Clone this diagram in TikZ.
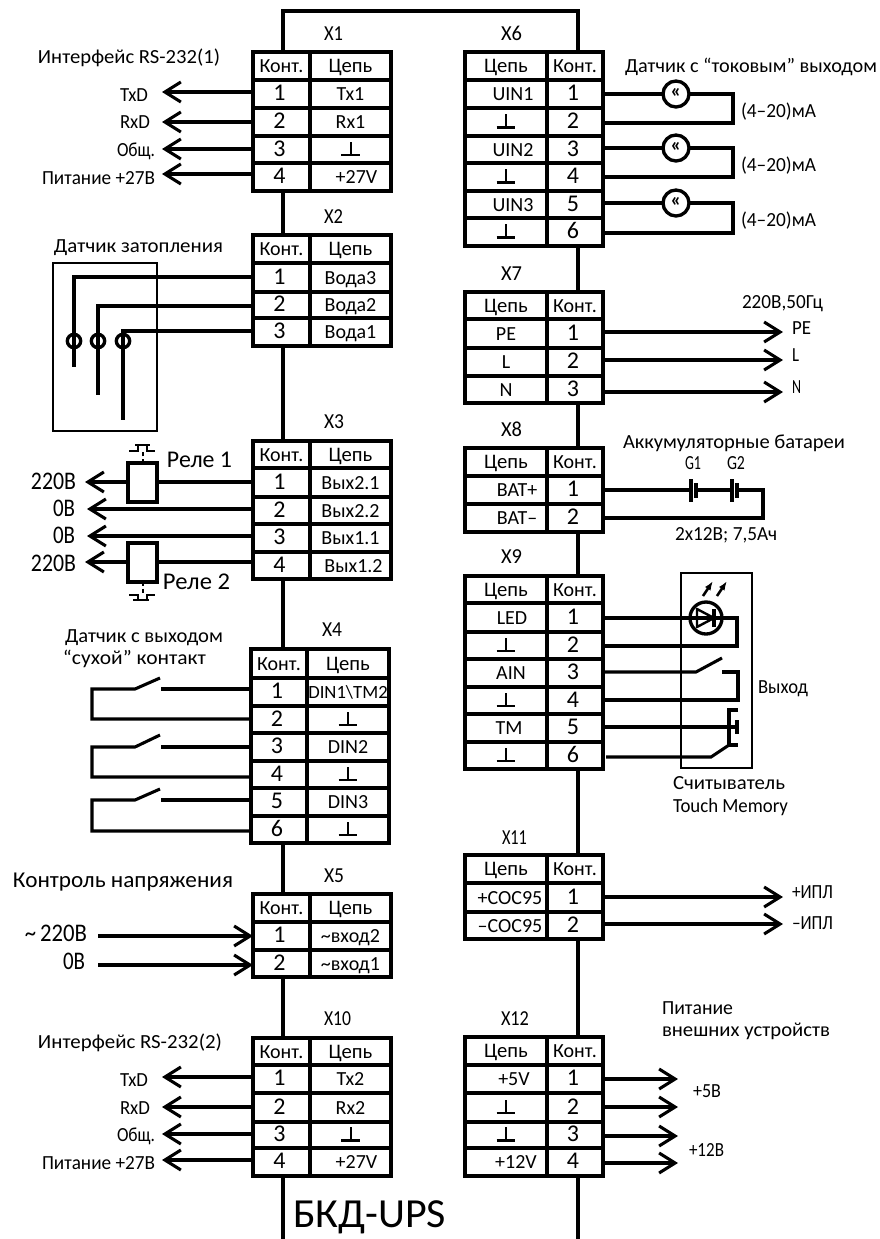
\documentclass[tikz,border=0pt]{standalone}
\usepackage{fontspec}
\usepackage{graphicx}
\setmainfont{Carlito}
\usetikzlibrary{arrows.meta}
\newcommand\setcols[3]{\def\xa{#1}\def\xb{#2}\def\xc{#3}}
\newcommand\crow[5]{%
  \pgfmathsetmacro\wL{(\xb-\xa)*.75}\pgfmathsetmacro\wR{(\xc-\xb)*.75}%
  \pgfmathsetmacro\hh{(#3-#2)*.75}%
  \pgfmathsetmacro\cL{(\xa+\xb)/2}\pgfmathsetmacro\cR{(\xb+\xc)/2}\pgfmathsetmacro\cy{(#2+#3)/2}%
  \node[cell,minimum width=\wL pt,minimum height=\hh pt] (#1-L) at (\cL,\cy) {\makebox[0pt]{#4}};
  \node[cell,minimum width=\wR pt,minimum height=\hh pt] (#1-R) at (\cR,\cy) {\makebox[0pt]{#5}};
}
\newcommand\txt[6]{%
  \pgfmathsetmacro\wT{(#3-#2)*.75}\pgfmathsetmacro\cT{(#2+#3)/2}\pgfmathsetmacro\hT{.64*#5}%
  \node[lab,font=\fontsize{#5}{#5}\selectfont,text height=\hT pt] (#1) at (\cT,#4) {\resizebox{\wT pt}{\height}{#6}};
}
\newcommand\sh[1]{\kern#1\dimexpr1.5pt\relax}
\newcommand\pn[1]{{\fontsize{18}{18}\selectfont\sh{-2}#1}}
\newcommand\kt{Конт.}
\newcommand\ce{{\fontsize{15.5}{15.5}\selectfont Цепь}}
\newcommand\gnd{\hbox to 14pt{\hss\vbox{\hbox to 14pt{\hss\vrule width 1.5pt height 9pt\hss}\hrule height 1.7pt}\hss}}
\tikzset{
  cell/.style={draw,line width=2.4pt,rectangle,inner sep=0pt,outer sep=0pt,font=\fontsize{15}{15}\selectfont,text height=10pt,text depth=0pt,align=center},
  lab/.style={inner sep=0pt,outer sep=0pt,text depth=0pt},
  wire/.style={line width=2.3pt},
  arr/.style={line width=2.3pt,-{Straight Barb[length=12pt,width=15pt]}},
  ring/.style={draw,circle,line width=2.5pt,inner sep=0pt,outer sep=0pt},
  relaybox/.style={draw,rectangle,line width=2.4pt,inner sep=0pt,outer sep=0pt},
  framebox/.style={draw,rectangle,line width=1.7pt,inner sep=0pt,outer sep=0pt},
}
\begin{document}
\begin{tikzpicture}[x=0.75pt,y=-0.75pt]
\useasboundingbox (0,0) rectangle (880,1239);
% spine anchors
\coordinate (spL) at (283,11);
\coordinate (spR) at (578,11);
\coordinate (spLb) at (283,1239);
\coordinate (spRb) at (578,1239);

% ---- left tables
\setcols{253}{310}{391}
\crow{A0}{52}{80}{\kt}{\ce}
\crow{A1}{80}{108}{\pn{1}}{Tx1}
\crow{A2}{108}{136}{\pn{2}}{Rx1}
\crow{A3}{136}{163}{\pn{3}}{\gnd}
\crow{A4}{163}{191}{\pn{4}}{\sh{6}+27V}

\crow{B0}{235}{263}{\kt}{\ce}
\crow{B1}{263}{292}{\pn{1}}{Вода3}
\crow{B2}{292}{318}{\pn{2}}{Вода2}
\crow{B3}{318}{346}{\pn{3}}{Вода1}

\crow{C0}{441}{468}{\kt}{\ce}
\crow{C1}{468}{497}{\pn{1}}{Вых2.1}
\crow{C2}{497}{524}{\pn{2}}{Вых2.2}
\crow{C3}{524}{552}{\pn{3}}{Вых1.1}
\crow{C4}{552}{579}{\pn{4}}{\sh{3}Вых1.2}

\setcols{251}{307}{389}
\crow{D0}{649}{678}{\kt}{\ce}
\crow{D1}{678}{706}{\pn{1}}{\fontsize{14}{14}\selectfont DIN1\textbackslash TM2}
\crow{D2}{706}{733}{\pn{2}}{\gnd}
\crow{D3}{733}{761}{\pn{3}}{DIN2}
\crow{D4}{761}{788}{\pn{4}}{\gnd}
\crow{D5}{788}{816}{\pn{5}}{DIN3}
\crow{D6}{816}{843}{\pn{6}}{\gnd}

\setcols{253}{310}{391}
\crow{E0}{894}{922}{\kt}{\ce}
\crow{E1}{922}{950}{\pn{1}}{\textasciitilde вход2}
\crow{E2}{950}{977}{\pn{2}}{\textasciitilde вход1}

\crow{F0}{1038}{1065}{\kt}{\ce}
\crow{F1}{1065}{1093}{\pn{1}}{Tx2}
\crow{F2}{1093}{1122}{\pn{2}}{Rx2}
\crow{F3}{1122}{1148}{\pn{3}}{\gnd}
\crow{F4}{1148}{1176}{\pn{4}}{\sh{6}+27V}

% ---- right tables
\setcols{465}{547}{603}
\crow{G0}{52}{80}{\ce}{\kt}
\crow{G1}{80}{108}{\sh{7}UIN1}{\pn{1}}
\crow{G2}{108}{136}{\gnd}{\pn{2}}
\crow{G3}{136}{163}{\sh{7}UIN2}{\pn{3}}
\crow{G4}{163}{191}{\gnd}{\pn{4}}
\crow{G5}{191}{218}{\sh{7}UIN3}{\pn{5}}
\crow{G6}{218}{246}{\gnd}{\pn{6}}

\crow{H0}{292}{319}{\ce}{\kt}
\crow{H1}{319}{348}{PE}{\pn{1}}
\crow{H2}{348}{376}{L}{\pn{2}}
\crow{H3}{376}{403}{N}{\pn{3}}

\crow{I0}{448}{476}{\ce}{\kt}
\crow{I1}{476}{504}{\sh{11}BAT+}{\pn{1}}
\crow{I2}{504}{532}{\sh{11}BAT--}{\pn{2}}

\crow{J0}{576}{603}{\ce}{\kt}
\crow{J1}{603}{632}{\sh{6}LED}{\pn{1}}
\crow{J2}{632}{659}{\gnd}{\pn{2}}
\crow{J3}{659}{687}{\sh{5}AIN}{\pn{3}}
\crow{J4}{687}{714}{\gnd}{\pn{4}}
\crow{J5}{714}{742}{\sh{3}TM}{\pn{5}}
\crow{J6}{742}{769}{\gnd}{\pn{6}}

\crow{K0}{855}{883}{\ce}{\kt}
\crow{K1}{883}{912}{\sh{4}+COC95}{\pn{1}}
\crow{K2}{912}{939}{\sh{4}--COC95}{\pn{2}}

\crow{M0}{1037}{1065}{\ce}{\kt}
\crow{M1}{1065}{1093}{\sh{8}+5V}{\pn{1}}
\crow{M2}{1093}{1122}{\gnd}{\pn{2}}
\crow{M3}{1122}{1148}{\gnd}{\pn{3}}
\crow{M4}{1148}{1176}{\sh{10}+12V}{\pn{4}}

% ---- spine
\draw[wire] (spL |- A0-L.north) -- (spL) -- (spR) -- (spR |- G0-R.north);
\draw[wire] (spL |- A4-L.south) -- (spL |- B0-L.north);
\draw[wire] (spL |- B3-L.south) -- (spL |- C0-L.north);
\draw[wire] (spL |- C4-L.south) -- (spL |- D0-L.north);
\draw[wire] (spL |- D6-L.south) -- (spL |- E0-L.north);
\draw[wire] (spL |- E2-L.south) -- (spL |- F0-L.north);
\draw[wire] (spL |- F4-L.south) -- (spLb);
\draw[wire] (spR |- G6-R.south) -- (spR |- H0-R.north);
\draw[wire] (spR |- H3-R.south) -- (spR |- I0-R.north);
\draw[wire] (spR |- I2-R.south) -- (spR |- J0-R.north);
\draw[wire] (spR |- J6-R.south) -- (spR |- K0-R.north);
\draw[wire] (spR |- K2-R.south) -- (spR |- M0-R.north);
\draw[wire] (spR |- M4-R.south) -- (spRb);

% ---- connector titles
\txt{tX1}{324}{343}{34}{16}{X1}
\txt{tX2}{324}{343}{217}{16}{X2}
\txt{tX3}{324}{344}{422}{16}{X3}
\txt{tX4}{322}{342}{630}{16}{X4}
\txt{tX5}{324}{344}{876}{16}{X5}
\txt{tX10}{324}{351}{1019}{16}{X10}
\txt{tX6}{501}{522}{34}{16}{X6}
\txt{tX7}{501}{522}{274}{16}{X7}
\txt{tX8}{501}{522}{430}{16}{X8}
\txt{tX9}{501}{522}{557}{16}{X9}
\txt{tX11}{502}{527}{838}{16}{X11}
\txt{tX12}{501}{529}{1019}{16}{X12}

% ---- X1 side
\txt{l1}{38}{220}{57}{15}{Интерфейс RS-232(1)}
\txt{l2}{120}{148}{95}{15}{TxD}
\txt{l3}{120}{150}{122}{15}{RxD}
\txt{l4}{117}{155}{150}{15}{Общ.}
\txt{l5}{42}{155}{178}{15}{Питание +27В}
\coordinate (a1) at (162,92);
\coordinate (a2) at (162,122);
\coordinate (a3) at (162,149);
\coordinate (a4) at (162,174);
\draw[arr] (A1-L.west |- a1) -- (a1);
\draw[arr] (A2-L.west |- a2) -- (a2);
\draw[arr] (A3-L.west |- a3) -- (a3);
\draw[arr] (A4-L.west |- a4) -- (a4);

% ---- X2 side
\txt{l6}{54}{223}{246}{15}{Датчик затопления}
\node[framebox,minimum width=78pt,minimum height=126pt] (flood) at (105,347) {};
\node[ring,minimum size=10pt] (fc1) at (74,341) {};
\node[ring,minimum size=10pt] (fc2) at (98,341) {};
\node[ring,minimum size=10pt] (fc3) at (123,341) {};
\coordinate (f1) at (74,277); \coordinate (f1e) at (74,367);
\coordinate (f2) at (98,306); \coordinate (f2e) at (98,395);
\coordinate (f3) at (123,331); \coordinate (f3e) at (123,420);
\draw[wire] (B1-L.west |- f1) -- (f1) -- (f1e);
\draw[wire] (B2-L.west |- f2) -- (f2) -- (f2e);
\draw[wire] (B3-L.west |- f3) -- (f3) -- (f3e);

% ---- X3 side
\txt{l7}{167}{232}{460}{18}{Реле 1}
\txt{l8}{163}{230}{582}{18}{Реле 2}
\txt{l9}{31}{76}{481}{19}{220В}
\txt{l10}{53}{75}{508}{19}{0В}
\txt{l11}{53}{75}{535}{19}{0В}
\txt{l12}{31}{76}{563}{19}{220В}
\node[relaybox,minimum width=21.75pt,minimum height=29.25pt] (rel1) at (142.5,482.5) {};
\node[relaybox,minimum width=21.75pt,minimum height=29.25pt] (rel2) at (142.5,562.5) {};
\coordinate (c1) at (85,482);
\coordinate (c2) at (87,509);
\coordinate (c3) at (87,536);
\coordinate (c4) at (85,562);
\draw[wire] (C1-L.west |- c1) -- (rel1.east |- c1);
\draw[arr] (rel1.west |- c1) -- (c1);
\draw[arr] (C2-L.west |- c2) -- (c2);
\draw[arr] (C3-L.west |- c3) -- (c3);
\draw[wire] (C4-L.west |- c4) -- (rel2.east |- c4);
\draw[arr] (rel2.west |- c4) -- (c4);
% relay contacts
\draw[line width=1.6pt,densely dashed] (143,463) -- (143,451);
\draw[line width=2pt] (129,451) -- (138,451) -- (138,445) (147,445) -- (147,451) -- (155,451) (135,445) -- (150,445);
\draw[line width=1.6pt,densely dashed] (143,582) -- (143,595);
\draw[line width=2pt] (129,595) -- (138,595) -- (138,601) (147,601) -- (147,595) -- (155,595) (133,600) -- (149,600);

% ---- X4 side
\txt{l13}{65}{223}{636}{15}{Датчик с выходом}
\txt{l14}{63}{206}{658}{15}{“сухой” контакт}
\coordinate (d1a) at (161,689); \coordinate (d1b) at (92,689); \coordinate (d1c) at (135,689); \coordinate (d1d) at (160,678); \coordinate (d1e) at (92,719);
\coordinate (d2a) at (161,747); \coordinate (d2b) at (92,747); \coordinate (d2c) at (135,747); \coordinate (d2d) at (160,735); \coordinate (d2e) at (92,777);
\coordinate (d3a) at (161,800); \coordinate (d3b) at (92,800); \coordinate (d3c) at (135,800); \coordinate (d3d) at (160,789); \coordinate (d3e) at (92,831);
\draw[wire] (D1-L.west |- d1a) -- (d1a);
\draw[wire] (d1d) -- (d1c) -- (d1b) -- (d1e) -- (D2-L.west |- d1e);
\draw[wire] (D3-L.west |- d2a) -- (d2a);
\draw[wire] (d2d) -- (d2c) -- (d2b) -- (d2e) -- (D4-L.west |- d2e);
\draw[wire] (D5-L.west |- d3a) -- (d3a);
\draw[wire] (d3d) -- (d3c) -- (d3b) -- (d3e) -- (D6-L.west |- d3e);

% ---- X5 side
\txt{l15}{13}{233}{880}{17}{Контроль напряжения}
\txt{l16}{25}{87}{933}{19}{\textasciitilde\,220В}
\txt{l17}{63}{85}{961}{19}{0В}
\coordinate (e1) at (98,936);
\coordinate (e2) at (98,965);
\draw[arr] (e1) -- (E1-L.west |- e1);
\draw[arr] (e2) -- (E2-L.west |- e2);

% ---- X10 side
\txt{l18}{38}{222}{1042}{15}{Интерфейс RS-232(2)}
\txt{l19}{120}{148}{1080}{15}{TxD}
\txt{l20}{120}{150}{1108}{15}{RxD}
\txt{l21}{117}{155}{1135}{15}{Общ.}
\txt{l22}{42}{155}{1163}{15}{Питание +27В}
\coordinate (b1) at (162,1077);
\coordinate (b2) at (162,1107);
\coordinate (b3) at (162,1134);
\coordinate (b4) at (162,1160);
\draw[arr] (F1-L.west |- b1) -- (b1);
\draw[arr] (F2-L.west |- b2) -- (b2);
\draw[arr] (F3-L.west |- b3) -- (b3);
\draw[arr] (F4-L.west |- b4) -- (b4);
\txt{l23}{293}{446}{1214}{31}{БКД-UPS}

% ---- X6 side
\txt{l24}{625}{877}{66}{15}{Датчик с “токовым” выходом}
\foreach \n/\ya/\yb/\ra/\rb/\ly in {1/94/123/G1/G2/111,2/148/177/G3/G4/165,3/203/233/G5/G6/220}{
  \node[ring,minimum size=19.5pt,font=\bfseries\fontsize{15}{15}\selectfont] (cur\n) at (676,\ya) {\raisebox{1pt}{«}};
  \coordinate (cur\n a) at (733,\ya);
  \coordinate (cur\n b) at (733,\yb);
  \draw[wire] (\ra-R.east |- cur\n a) -- (cur\n);
  \draw[wire] (cur\n) -- (cur\n a) -- (cur\n b) -- (\rb-R.east |- cur\n b);
  \txt{ma\n}{741}{816}{\ly}{15}{(4--20)мА}
}

% ---- X7 side
\txt{l25}{742}{823}{302}{15}{220В,50Гц}
\coordinate (h1) at (783,332);
\coordinate (h2) at (783,360);
\coordinate (h3) at (783,392);
\draw[arr] (H1-R.east |- h1) -- (h1);
\draw[arr] (H2-R.east |- h2) -- (h2);
\draw[arr] (H3-R.east |- h3) -- (h3);
\txt{l26}{792}{811}{328}{15}{PE}
\txt{l27}{792}{799}{355}{15}{L}
\txt{l28}{792}{801}{387}{15}{N}

% ---- X8 side
\txt{l29}{623}{845}{442}{15}{Аккумуляторные батареи}
\txt{l30}{685}{701}{463}{15}{G1}
\txt{l31}{727}{745}{463}{15}{G2}
\txt{l32}{675}{777}{534}{15}{2х12В; 7,5Ач}
\coordinate (i1) at (691,490);
\coordinate (i2) at (696,490);
\coordinate (i3) at (732,490);
\coordinate (i4) at (737,490);
\coordinate (i5) at (763,490);
\coordinate (i6) at (763,518);
\draw[wire] (I1-R.east |- i1) -- (i1) (i2) -- (i3) (i4) -- (i5) -- (i6) -- (I2-R.east |- i6);
\draw[line width=2.4pt] (691,479) -- (691,502) (732,479) -- (732,502);
\draw[line width=2.4pt] (696,483) -- (696,498) (737,483) -- (737,498);

% ---- X9 side
\node[framebox,minimum width=53.25pt,minimum height=146.25pt] (reader) at (716.5,670.5) {};
\txt{l33}{758}{808}{687}{15}{Выход}
\txt{l34}{673}{785}{783}{15}{Считыватель}
\txt{l35}{673}{788}{806}{15}{Touch Memory}
\node[ring,minimum size=24pt] (led) at (706,618) {};
\coordinate (j1) at (737,618); \coordinate (j1b) at (737,646);
\draw[wire] (J1-R.east |- j1) -- (j1) -- (j1b) -- (J2-R.east |- j1b);
\draw[line width=1.8pt,line join=round] (697,609) -- (714,618) -- (697,627) -- cycle;
\draw[line width=2.4pt] (714,609) -- (714,627);
\draw[line width=1.9pt,-{Latex[length=7pt,width=5pt]}] (703,596) -- (713,581);
\draw[line width=1.9pt,-{Latex[length=7pt,width=5pt]}] (717,596) -- (727,581);
\coordinate (j3a) at (696,672); \coordinate (j3b) at (722,658);
\coordinate (j3c) at (722,672); \coordinate (j3d) at (738,672); \coordinate (j3e) at (738,700);
\draw[wire] (J3-R.east |- j3a) -- (j3a) -- (j3b);
\draw[wire] (j3c) -- (j3d) -- (j3e) -- (J4-R.east |- j3e);
\coordinate (j5) at (737,727);
\draw[wire] (J5-R.east |- j5) -- (j5);
\draw[wire] (738,710) -- (729,710) -- (729,745) -- (738,745);
\draw[line width=2.4pt] (737,720) -- (737,734);
\coordinate (j6a) at (606,757); \coordinate (j6b) at (711,757); \coordinate (j6c) at (729,745);
\draw[wire] (j6a) -- (j6b) -- (j6c);

% ---- X11 side
\coordinate (k1) at (783,897);
\coordinate (k2) at (783,924);
\draw[arr] (K1-R.east |- k1) -- (k1);
\draw[arr] (K2-R.east |- k2) -- (k2);
\txt{l36}{792}{833}{892}{15}{+ИПЛ}
\txt{l37}{792}{833}{923}{15}{--ИПЛ}

% ---- X12 side
\txt{l38}{662}{733}{1008}{15}{Питание}
\txt{l39}{662}{830}{1030}{15}{внешних устройств}
\coordinate (m1) at (678,1079);
\coordinate (m2) at (678,1107);
\coordinate (m3) at (678,1136);
\coordinate (m4) at (678,1163);
\draw[arr] (M1-R.east |- m1) -- (m1);
\draw[arr] (M2-R.east |- m2) -- (m2);
\draw[arr] (M3-R.east |- m3) -- (m3);
\draw[arr] (M4-R.east |- m4) -- (m4);
\txt{l40}{693}{721}{1091}{15}{+5В}
\txt{l41}{689}{724}{1150}{15}{+12В}
\end{tikzpicture}
\end{document}
